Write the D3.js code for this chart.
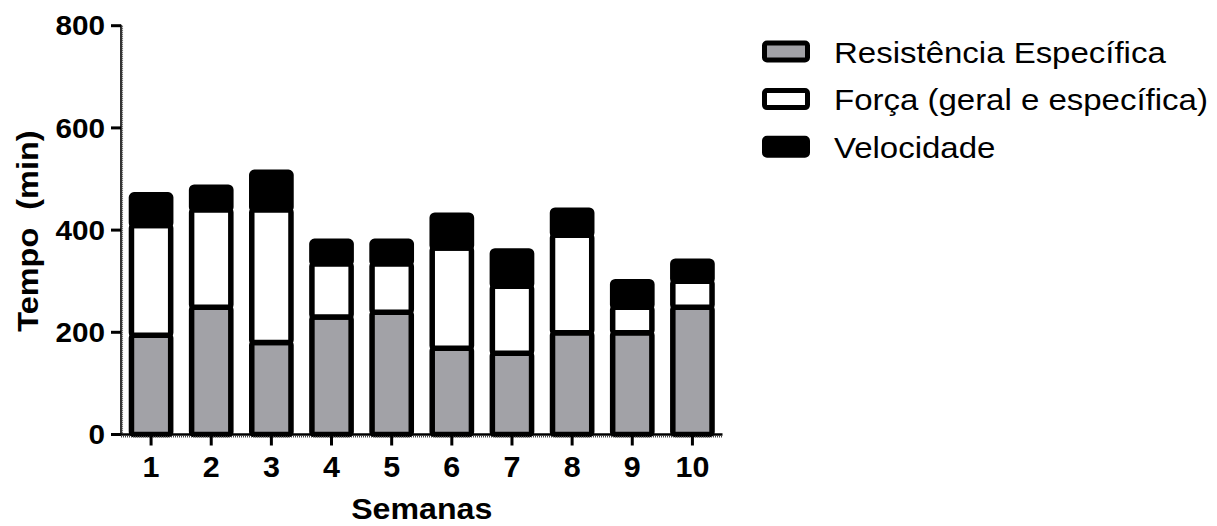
<!DOCTYPE html>
<html>
<head>
<meta charset="utf-8">
<script src="https://cdn.jsdelivr.net/npm/d3@7"></script>
<style>
  html, body { margin: 0; padding: 0; background: #fff; }
  svg { display: block; }
  text { font-family: "Liberation Sans", Arial, Helvetica, sans-serif; }
</style>
</head>
<body>
<svg id="chart" width="1217" height="526"></svg>
<script>
// Weekly training volume (minutes) by component
const weeks = ["1", "2", "3", "4", "5", "6", "7", "8", "9", "10"];
const resistencia = [194, 249, 180, 230, 239, 169, 159, 199, 199, 249];
const forca = [215, 191, 260, 104, 95, 196, 131, 191, 50, 51];
const velocidade = [60, 44, 73, 44, 44, 64, 69, 49, 50, 39];
const yTicks = [0, 200, 400, 600, 800];

const seriesNames = ["Resistência Específica", "Força (geral e específica)", "Velocidade"];
const seriesKeys = ["res", "for", "vel"];
const seriesFill = ["#a2a2a7", "#ffffff", "#000000"];

const rows = weeks.map((w, i) => ({ week: w, res: resistencia[i], for: forca[i], vel: velocidade[i] }));
const stacked = d3.stack().keys(seriesKeys)(rows);

const svg = d3.select("#chart");

const plot = { left: 121, right: 722.5, top: 25.7, bottom: 434.5 };

const x = d3.scaleBand().domain(weeks).range([plot.left, plot.right]).paddingInner(0).paddingOuter(0);
const y = d3.scaleLinear().domain([0, 800]).range([plot.bottom, plot.top]);

const barStroke = 5.5;
const barW = x.bandwidth() * 0.652;

// Stacked bars
const layers = svg.append("g").selectAll("g")
  .data(stacked)
  .join("g")
  .attr("fill", (d, i) => seriesFill[i]);

layers.selectAll("rect")
  .data(d => d)
  .join("rect")
  .attr("x", d => x(d.data.week) + (x.bandwidth() - barW) / 2)
  .attr("y", d => y(d[1]))
  .attr("width", barW)
  .attr("height", d => y(d[0]) - y(d[1]))
  .attr("rx", 2.5)
  .attr("stroke", "#000")
  .attr("stroke-width", barStroke);

// Y axis
const yAxis = svg.append("g");
yAxis.append("line")
  .attr("x1", plot.left).attr("x2", plot.left)
  .attr("y1", plot.top - 1).attr("y2", plot.bottom)
  .attr("stroke", "#000").attr("stroke-width", 1.6);
yAxis.append("line")
  .attr("x1", plot.left + 1.4).attr("x2", plot.left + 1.4)
  .attr("y1", plot.top).attr("y2", plot.bottom)
  .attr("stroke", "#444").attr("stroke-width", 1.3)
  .attr("stroke-dasharray", "1,1");
yAxis.selectAll(".ytick")
  .data(yTicks)
  .join("line")
  .attr("x1", plot.left - 10).attr("x2", plot.left)
  .attr("y1", d => y(d)).attr("y2", d => y(d))
  .attr("stroke", "#000").attr("stroke-width", 3);
yAxis.selectAll(".ylab")
  .data(yTicks)
  .join("text")
  .attr("transform", d => `translate(${plot.left - 16},${y(d)}) scale(1.1,1)`)
  .attr("dy", "0.36em")
  .attr("text-anchor", "end")
  .attr("font-size", 27)
  .attr("font-weight", "bold")
  .text(d => d);

// X axis
const xAxis = svg.append("g");
xAxis.append("line")
  .attr("x1", plot.left - 10).attr("x2", plot.right)
  .attr("y1", plot.bottom).attr("y2", plot.bottom)
  .attr("stroke", "#000").attr("stroke-width", 2.6);
xAxis.append("line")
  .attr("x1", plot.left).attr("x2", plot.right)
  .attr("y1", plot.bottom + 2.2).attr("y2", plot.bottom + 2.2)
  .attr("stroke", "#444").attr("stroke-width", 1.4)
  .attr("stroke-dasharray", "1,1");
xAxis.selectAll(".xtick")
  .data(weeks)
  .join("line")
  .attr("x1", d => x(d) + x.bandwidth() / 2).attr("x2", d => x(d) + x.bandwidth() / 2)
  .attr("y1", plot.bottom).attr("y2", plot.bottom + 11)
  .attr("stroke", "#000").attr("stroke-width", 3);
xAxis.selectAll(".xlab")
  .data(weeks)
  .join("text")
  .attr("transform", d => `translate(${x(d) + x.bandwidth() / 2},476.8) scale(1.05,1)`)
  .attr("text-anchor", "middle")
  .attr("font-size", 29)
  .attr("font-weight", "bold")
  .text(d => d);

// Axis titles
svg.append("text")
  .attr("transform", `translate(${(plot.left + plot.right) / 2},519.3) scale(1.09,1)`)
  .attr("text-anchor", "middle")
  .attr("font-size", 29.5)
  .attr("font-weight", "bold")
  .text("Semanas");

svg.append("text")
  .attr("transform", `translate(38,${(plot.top + plot.bottom) / 2 + 1}) rotate(-90) scale(1.1,1)`)
  .attr("text-anchor", "middle")
  .attr("font-size", 29.5)
  .attr("font-weight", "bold")
  .attr("xml:space", "preserve")
  .style("white-space", "pre")
  .text("Tempo  (min)");

// Legend
const legendStep = 47.6;
const legend = svg.append("g");
const legendRows = legend.selectAll("g")
  .data(seriesNames)
  .join("g")
  .attr("transform", (d, i) => `translate(0,${51.5 + i * legendStep})`);
legendRows.append("rect")
  .attr("x", 764.5).attr("y", -8.5)
  .attr("width", 43).attr("height", 17)
  .attr("rx", 2.5)
  .attr("fill", (d, i) => seriesFill[i])
  .attr("stroke", "#000").attr("stroke-width", 5);
legendRows.append("text")
  .attr("transform", "translate(834,11) scale(1.1,1)")
  .attr("font-size", 30)
  .text(d => d);
</script>
</body>
</html>
